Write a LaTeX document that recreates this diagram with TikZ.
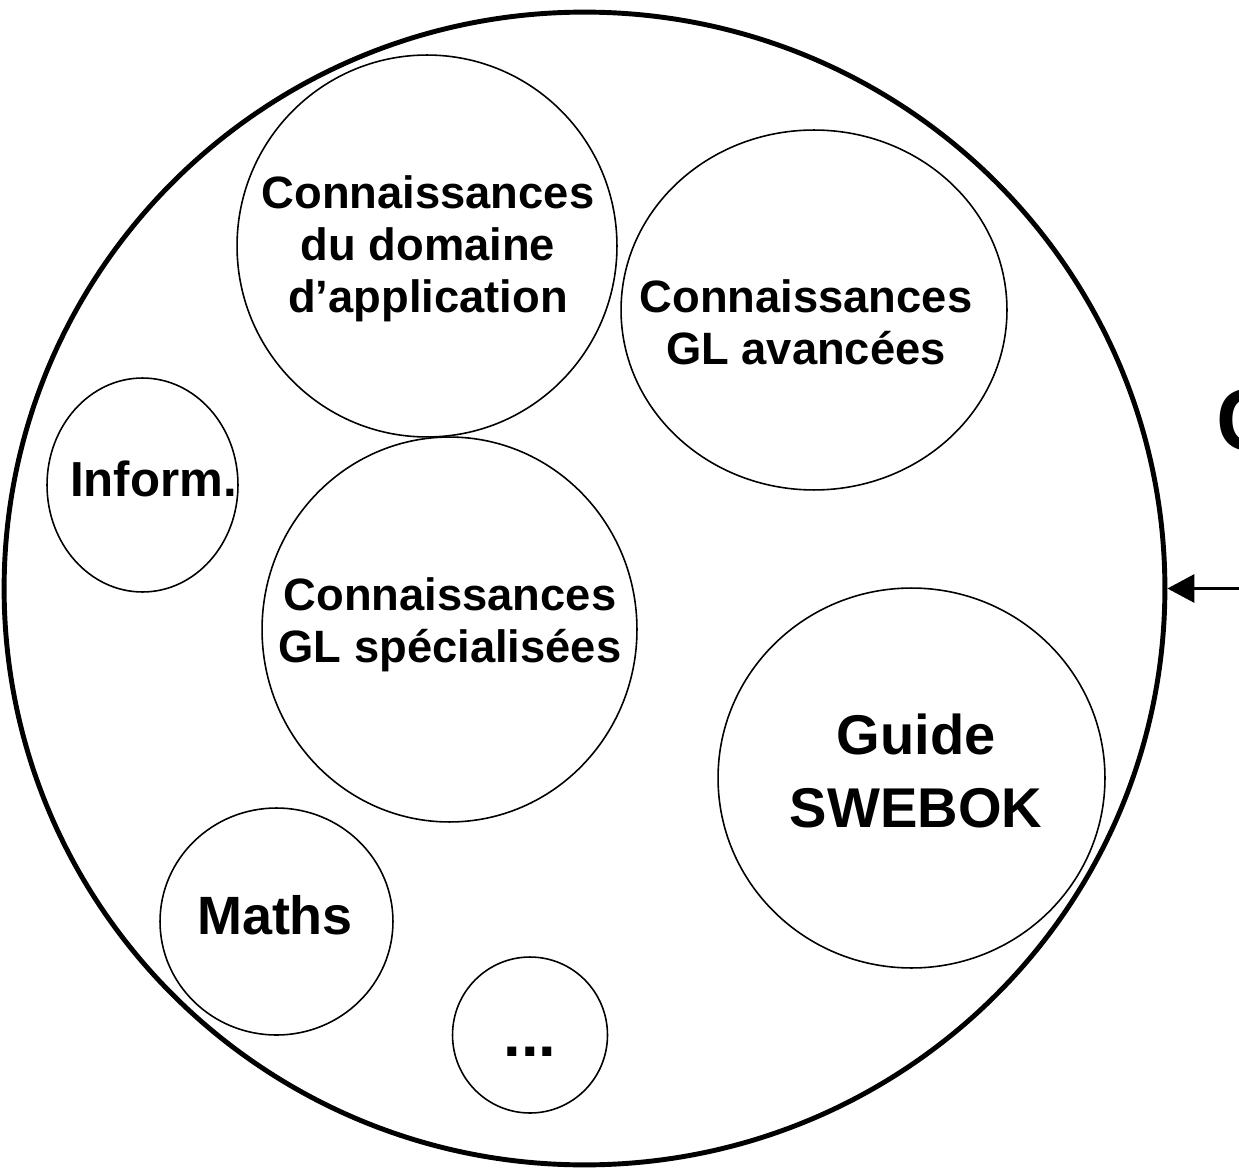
\documentclass[tikz,border=0pt]{standalone}
\usepackage{fontspec}
\setmainfont{Liberation Sans}
\usepackage{tikz}
\usetikzlibrary{arrows.meta, positioning, shapes.geometric}

\begin{document}
\begin{tikzpicture}[
          x=0.02cm, y=-0.02cm,
          blob/.style={ellipse, draw, inner sep=0pt, line width=0.9pt},
          lbl/.style={align=center, inner sep=0pt, font=\bfseries\fontsize{25.8}{29.5}\selectfont},
          biglbl/.style={align=center, inner sep=0pt, font=\bfseries\fontsize{31.9}{41.5}\selectfont},
          >=Stealth
        ]
        \useasboundingbox (0,0) rectangle (1239,1168);
        % outer bubble
        \node [ellipse, draw, inner sep=0pt, line width=2.8pt,
               minimum width=23.22cm, minimum height=23.06cm] (outer) at (584.5,588.5) {};
        % inner bubbles
        \node [blob, minimum width=7.6cm, minimum height=7.64cm] (dom) at (427,246) {};
        \node [blob, minimum width=7.72cm, minimum height=7.2cm] (adv) at (814,310) {};
        \node [blob, minimum width=3.82cm, minimum height=4.28cm] (inf) at (142.5,485) {};
        \node [blob, minimum width=7.5cm, minimum height=7.7cm] (spec) at (449.5,629.5) {};
        \node [blob, minimum width=7.74cm, minimum height=7.6cm] (swe) at (911.5,778) {};
        \node [blob, minimum width=4.66cm, minimum height=4.54cm] (math) at (276.5,921.5) {};
        \node [blob, minimum width=3.1cm, minimum height=3.12cm] (etc) at (530,1035) {};
        % labels
        \node [lbl] (domtxt) at (428,249) {Connaissances\\du domaine\\d’application};
        \node [lbl] (advtxt) at (806,322) {Connaissances\\GL avancées};
        \node [lbl, font=\bfseries\fontsize{28}{32}\selectfont] (inftxt) at (153.5,479) {Inform.};
        \node [lbl] (spectxt) at (450,624.5) {Connaissances\\GL spécialisées};
        \node [biglbl] (swetxt) at (916,771) {Guide\\SWEBOK};
        \node [lbl, font=\bfseries\fontsize{30.7}{36}\selectfont] (mathtxt) at (275,915.5) {Maths};
        \node [lbl, font=\bfseries\fontsize{36}{40}\selectfont] (etctxt) at (530,1052) {...};
        \node [anchor=base west, inner sep=0pt, font=\bfseries\fontsize{50}{60}\selectfont] (cut) at (1216,451) {C};
        % incoming arrow
        \coordinate (ext) at (1239,588.5);
        \draw [-{Triangle[length=5.4mm, width=5.6mm]}, line width=1.7pt] (ext) -- (outer.east);
        \end{tikzpicture}
\end{document}
